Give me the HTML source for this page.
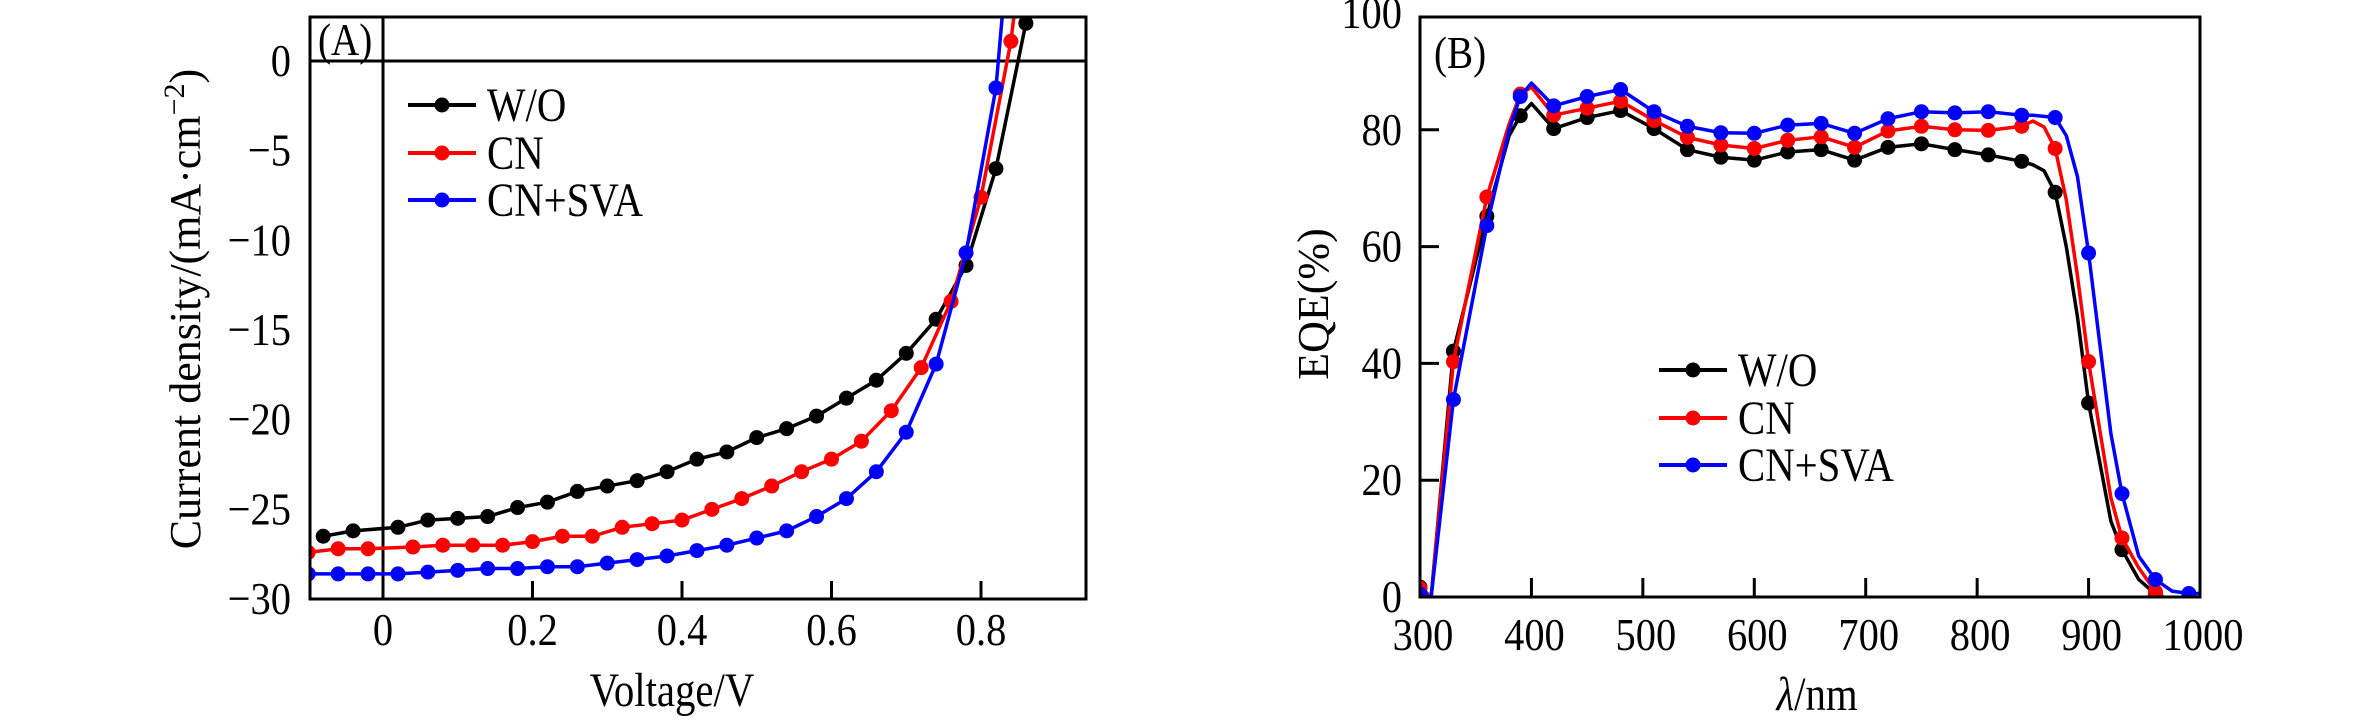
<!DOCTYPE html>
<html><head><meta charset="utf-8"><style>
html,body{margin:0;padding:0;background:#fff;}
svg{display:block;font-family:"Liberation Serif",serif;}
</style></head><body>
<svg id="fig" width="2362" height="724" viewBox="0 0 2362 724" xmlns="http://www.w3.org/2000/svg">
<defs>
<clipPath id="clipA"><rect x="310" y="17" width="776" height="582"/></clipPath>
<clipPath id="clipB"><rect x="1420" y="17" width="780" height="580"/></clipPath>
</defs>
<g id="panelA"></g>
<g id="panelB"></g>
</svg>
<script>
// ---- Panel A data (J-V) ----
const aXTicks = [0, 0.2, 0.4, 0.6, 0.8];
const aXTickLabels = ["0", "0.2", "0.4", "0.6", "0.8"];
const aYTicks = [0, -5, -10, -15, -20, -25, -30];
const aYTickLabels = ["0", "\u22125", "\u221210", "\u221215", "\u221220", "\u221225", "\u221230"];
const aSeriesNames = ["W/O", "CN", "CN+SVA"];
const woV = [-0.08,-0.04,0.02,0.06,0.10,0.14,0.18,0.22,0.26,0.30,0.34,0.38,0.42,0.46,0.50,0.54,0.58,0.62,0.66,0.70,0.74,0.78,0.82,0.86,0.88];
const woJ = [-26.5,-26.2,-26.0,-25.6,-25.5,-25.4,-24.9,-24.6,-24.0,-23.7,-23.4,-22.9,-22.2,-21.8,-21.0,-20.5,-19.8,-18.8,-17.8,-16.3,-14.4,-11.4,-6.0,2.1,8];
const cnV = [-0.1,-0.06,-0.02,0.04,0.08,0.12,0.16,0.20,0.24,0.28,0.32,0.36,0.40,0.44,0.48,0.52,0.56,0.60,0.64,0.68,0.72,0.76,0.80,0.84,0.86];
const cnJ = [-27.4,-27.2,-27.2,-27.1,-27.0,-27.0,-27.0,-26.8,-26.5,-26.5,-26.0,-25.8,-25.6,-25.0,-24.4,-23.7,-22.9,-22.2,-21.2,-19.5,-17.1,-13.4,-7.6,1.1,8];
const svaV = [-0.1,-0.06,-0.02,0.02,0.06,0.10,0.14,0.18,0.22,0.26,0.30,0.34,0.38,0.42,0.46,0.50,0.54,0.58,0.62,0.66,0.70,0.74,0.78,0.82,0.84];
const svaJ = [-28.6,-28.6,-28.6,-28.6,-28.5,-28.4,-28.3,-28.3,-28.2,-28.2,-28.0,-27.8,-27.6,-27.3,-27.0,-26.6,-26.2,-25.4,-24.4,-22.9,-20.7,-16.9,-10.7,-1.5,8];

// ---- Panel B data (EQE) ----
const bXTicks = [300,400,500,600,700,800,900,1000];
const bYTicks = [0,20,40,60,80,100];
const bWl = [300,310,330,360,380,390,400,420,450,480,510,540,570,600,630,660,690,720,750,780,810,840,850,860,870,880,890,900,920,930,945,960,975,990,1000];
const bWO  = [1.7,0,42.1,65.2,79,82.4,84.5,80.2,82.1,83.3,80.2,76.6,75.3,74.8,76.2,76.6,74.8,77.0,77.6,76.6,75.7,74.6,74,73,69.3,60,48,33.2,13,8.1,3,0.5,-1,-1,-1];
const bCN  = [1.5,0,40.3,68.5,81,86.1,87.3,82.5,83.7,84.9,81.6,78.7,77.4,76.8,78.2,78.8,77.0,79.8,80.6,80.0,79.9,80.6,81.5,80.5,76.8,68,55,40.3,17,10.1,5,0.9,-1,-1,-1];
const bSVA = [0.5,0,33.8,63.6,80,85.7,88,84.1,85.7,86.9,83.1,80.6,79.5,79.4,80.8,81.1,79.4,81.9,83.1,82.9,83.1,82.5,82.5,82.3,82.1,79,72,58.9,28,17.7,7,3.0,1,0.6,0.6];

const NS = "http://www.w3.org/2000/svg";
function mk(tag, attrs, parent){const e=document.createElementNS(NS,tag);for(const k in attrs)e.setAttribute(k,attrs[k]);parent.appendChild(e);return e;}
function txt(parent, s, x, y, size, anchor, sx){const t=mk("text",{x:0,y:0,"font-size":size,"text-anchor":anchor,fill:"#000",transform:`translate(${x},${y}) scale(${sx},1)`},parent);t.textContent=s;return t;}
const colors=["#000000","#ff0000","#0000ff"];

// ===== Panel A =====
const gA=document.getElementById("panelA");
const ax=v=>383+(v/0.2)*149.5;
const ay=j=>61-(j/5)*89.67;
const aL=310,aR=1086,aT=17,aB=599;
let z=mk("line",{x1:aL,x2:aR,y1:ay(0),y2:ay(0),stroke:"#000","stroke-width":3},gA);


z=mk("line",{x1:ax(0),x2:ax(0),y1:aT,y2:aB,stroke:"#000","stroke-width":3},gA);


aXTicks.forEach((v,i)=>{
  if(v!==0){const t=mk("line",{x1:ax(v),x2:ax(v),y1:aB,y2:aB-18,stroke:"#000","stroke-width":3},gA);
  
  }
  const l=txt(gA,aXTickLabels[i],ax(v),645,46,"middle",0.88);
  
  
});
aYTicks.forEach((v,i)=>{
  const l=txt(gA,aYTickLabels[i],291,ay(v)+15,46,"end",0.88);
  
  
});
const clipA=mk("g",{"clip-path":"url(#clipA)"},gA);
[[woV,woJ],[cnV,cnJ],[svaV,svaJ]].forEach((s,k)=>{
  const g=mk("g",{},clipA);
  
  
  const pts=s[0].map((v,i)=>ax(v)+","+ay(s[1][i])).join(" ");
  mk("polyline",{points:pts,fill:"none",stroke:colors[k],"stroke-width":3.5,"stroke-linejoin":"round"},g);
  s[0].forEach((v,i)=>{const c=mk("circle",{cx:ax(v),cy:ay(s[1][i]),r:7.5,fill:colors[k]},g);
    
    });
});
let fr=mk("rect",{x:aL,y:aT,width:aR-aL,height:aB-aT,fill:"none",stroke:"#000","stroke-width":3},gA);


let lb=txt(gA,"(A)",318,55,46,"start",0.85);


aSeriesNames.forEach((n,k)=>{
  const y=[105,153,200][k];
  const g=mk("g",{},gA);
  
  
  mk("line",{x1:408,x2:476,y1:y,y2:y,stroke:colors[k],"stroke-width":4},g);
  mk("circle",{cx:442,cy:y,r:7.5,fill:colors[k]},g);
  txt(g,n,487,y+16,48,"start",0.85);
});
let tt=txt(gA,"Voltage/V",672,706,48,"middle",0.85);


tt=mk("text",{x:0,y:0,"font-size":44,"text-anchor":"middle",transform:"translate(200,309) rotate(-90)"},gA);
tt.innerHTML='Current density/(mA\u00b7cm<tspan baseline-shift="super" font-size="30">\u22122</tspan>)';



// ===== Panel B =====
const gB=document.getElementById("panelB");
const bx=w=>1420+(w-300)*1.1143;
const by=e=>597-e*5.84;
const bL=1420,bR=2200,bT=17,bB=597;
bXTicks.forEach(v=>{
  if(v>300&&v<1000){const t=mk("line",{x1:bx(v),x2:bx(v),y1:bB,y2:bB-19,stroke:"#000","stroke-width":3},gB);
  
  }
  const l=txt(gB,String(v),bx(v)+3,650,46,"middle",0.88);
  
  
});
bYTicks.forEach(v=>{
  if(v>0&&v<100){const t=mk("line",{x1:bL,x2:bL+19,y1:by(v),y2:by(v),stroke:"#000","stroke-width":3},gB);
  
  }
  const l=txt(gB,String(v),1402,by(v)+15,46,"end",0.88);
  
  
});
const clipB=mk("g",{"clip-path":"url(#clipB)"},gB);
[bWO,bCN,bSVA].forEach((s,k)=>{
  const g=mk("g",{},clipB);
  
  
  const pts=bWl.map((w,i)=>bx(w)+","+by(s[i])).join(" ");
  mk("polyline",{points:pts,fill:"none",stroke:colors[k],"stroke-width":3.5,"stroke-linejoin":"round"},g);
  bWl.forEach((w,i)=>{
    if((w>=330&&(w-330)%30===0&&s[i]>0.3)||w===300){
      const c=mk("circle",{cx:bx(w),cy:by(s[i]),r:7.5,fill:colors[k]},g);
      
      
    }
  });
});
fr=mk("rect",{x:bL,y:bT,width:bR-bL,height:bB-bT,fill:"none",stroke:"#000","stroke-width":3},gB);


lb=txt(gB,"(B)",1434,68,46,"start",0.85);


aSeriesNames.forEach((n,k)=>{
  const y=[370,418,465][k];
  const g=mk("g",{},gB);
  
  
  mk("line",{x1:1659,x2:1727,y1:y,y2:y,stroke:colors[k],"stroke-width":4},g);
  mk("circle",{cx:1693,cy:y,r:7.5,fill:colors[k]},g);
  txt(g,n,1738,y+16,48,"start",0.85);
});
tt=mk("text",{x:0,y:0,"font-size":48,"text-anchor":"middle",transform:"translate(1817,710) scale(0.85,1)"},gB);
tt.innerHTML='<tspan font-style="italic">\u03bb</tspan>/nm';


tt=mk("text",{x:0,y:0,"font-size":44,"text-anchor":"middle",transform:"translate(1328,304) rotate(-90)"},gB);
tt.textContent="EQE(%)";


</script>
</body></html>
